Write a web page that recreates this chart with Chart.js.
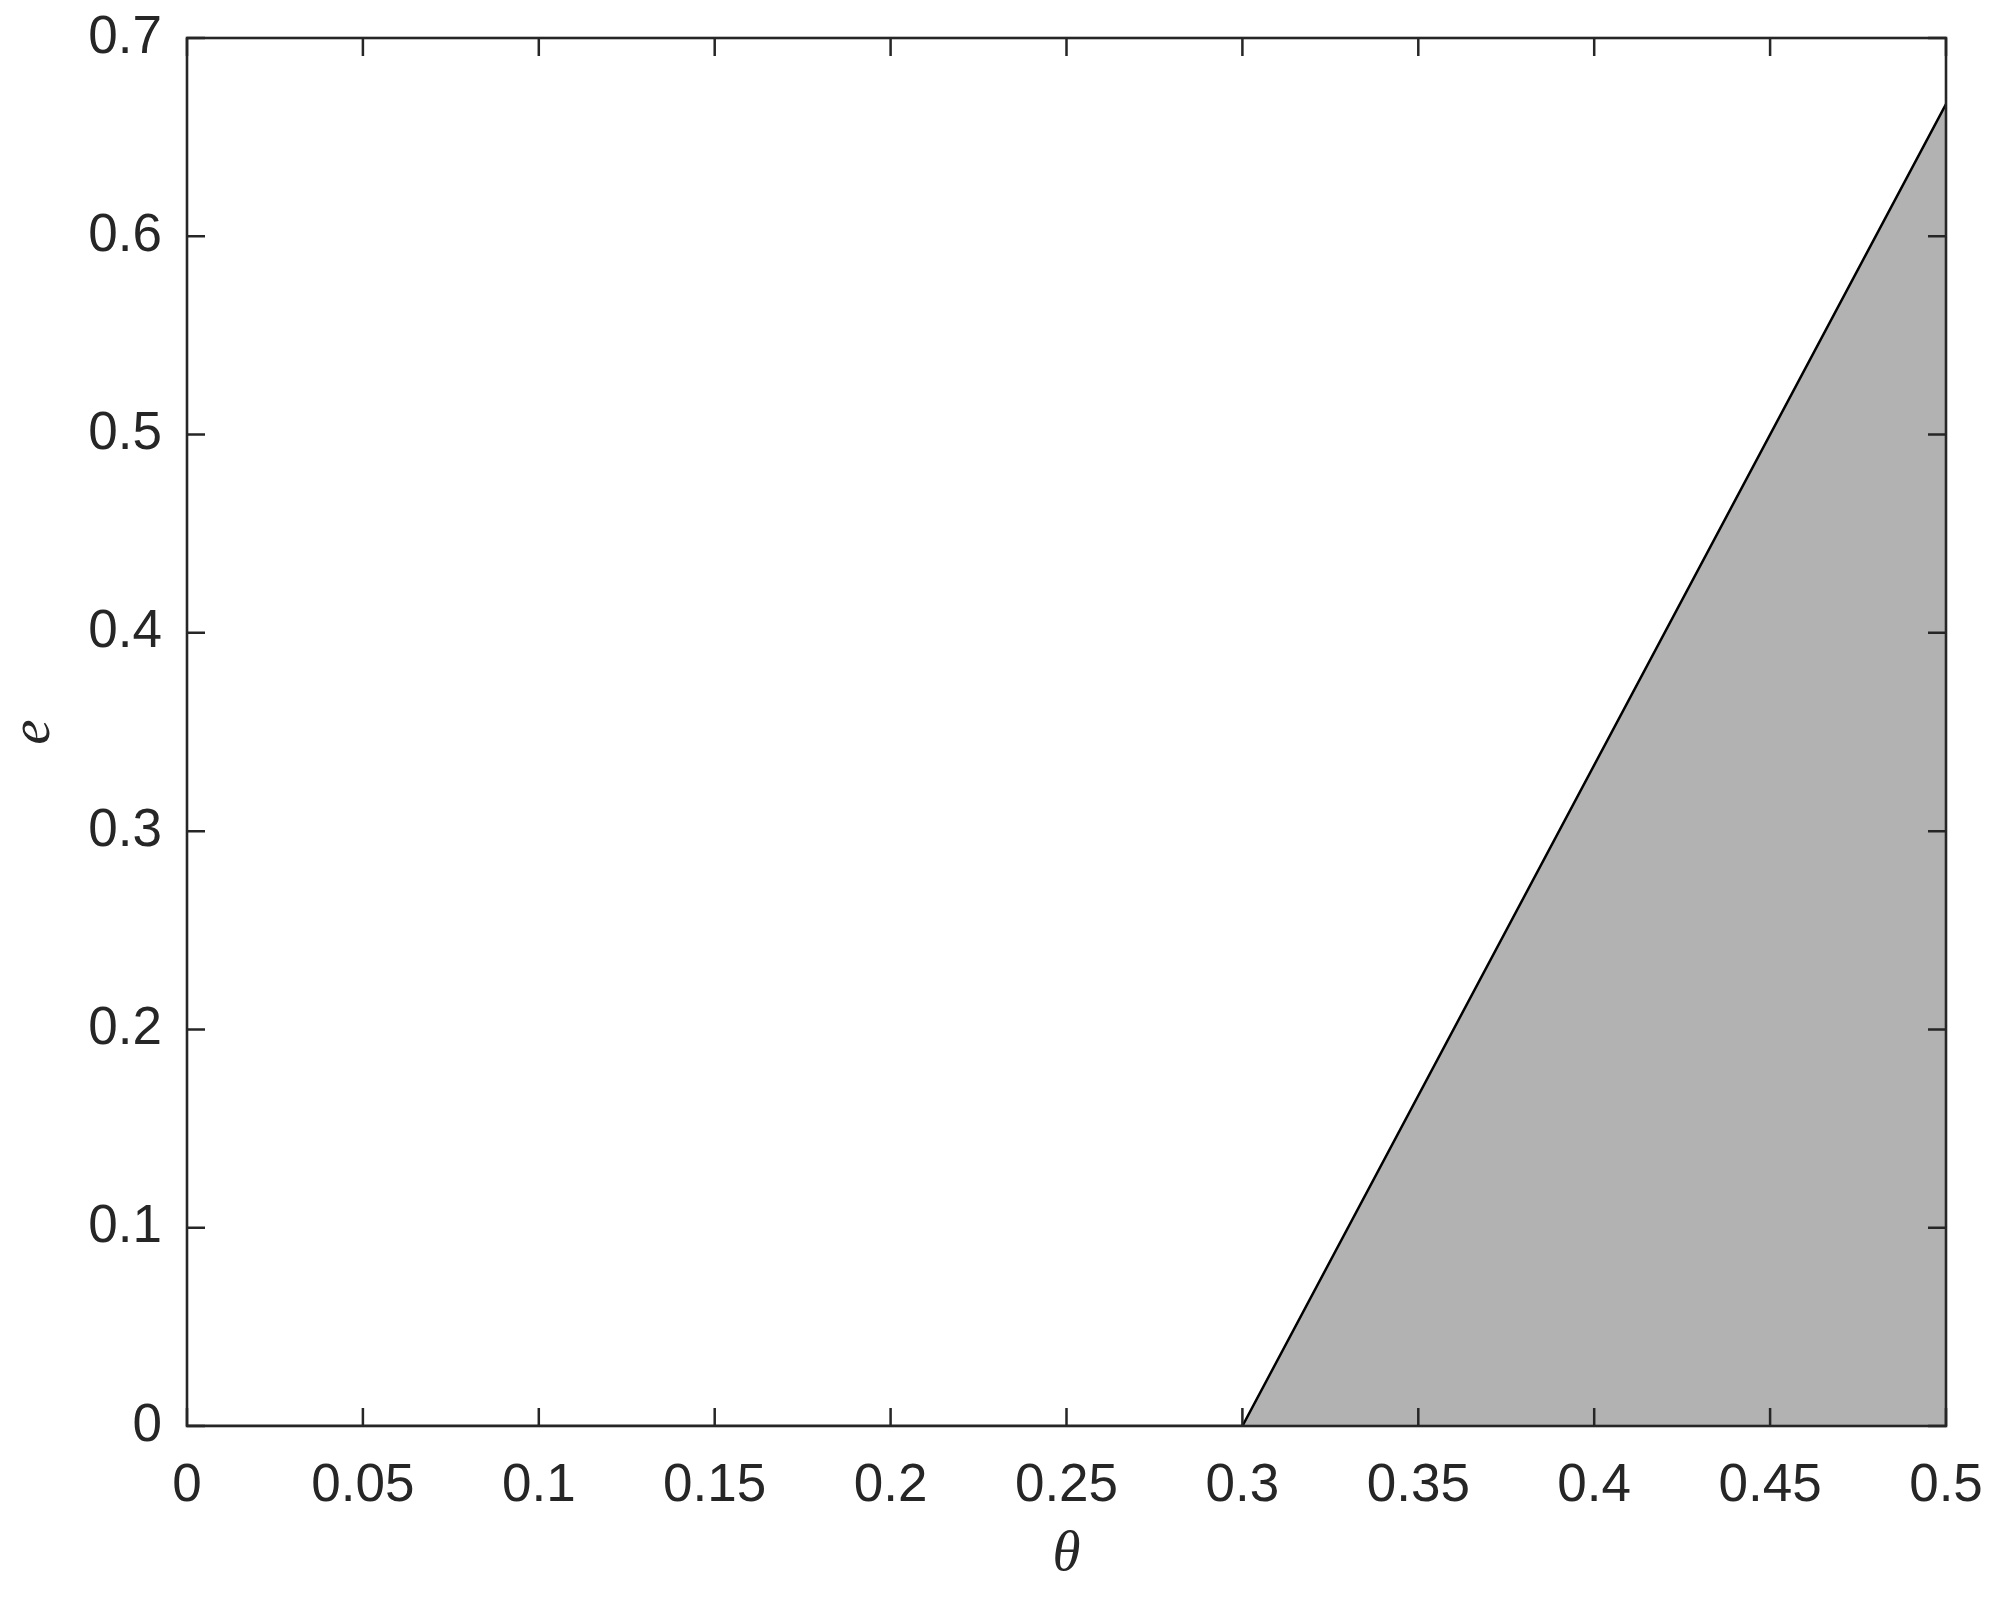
<!DOCTYPE html>
<html>
<head>
<meta charset="utf-8">
<script src="https://cdn.jsdelivr.net/npm/chart.js@4.4.1/dist/chart.umd.min.js"></script>
<style>
  html, body { margin: 0; padding: 0; background: #ffffff; }
  #wrap { width: 1999px; height: 1598px; }
</style>
</head>
<body>
<div id="wrap"><canvas id="c" width="1999" height="1598"></canvas></div>
<script>
// ---- data ----
const thetaValues = [0, 0.3, 0.5];
const eValues = [0, 0, 0.6667];
const xTickValues = [0, 0.05, 0.1, 0.15, 0.2, 0.25, 0.3, 0.35, 0.4, 0.45, 0.5];
const xTickLabels = ['0', '0.05', '0.1', '0.15', '0.2', '0.25', '0.3', '0.35', '0.4', '0.45', '0.5'];
const yTickValues = [0, 0.1, 0.2, 0.3, 0.4, 0.5, 0.6, 0.7];
const yTickLabels = ['0', '0.1', '0.2', '0.3', '0.4', '0.5', '0.6', '0.7'];
const xTitle = 'θ';
const yTitle = 'e';

const points = thetaValues.map((t, i) => ({ x: t, y: eValues[i] }));

const axisColor = '#262626';
const tickFont = { family: '"Liberation Sans", Arial, Helvetica, sans-serif', size: 53 };
const titleFont = { family: '"Liberation Serif", "Times New Roman", serif', size: 57, style: 'italic', lineHeight: 1 };

const boxTicks = {
  id: 'boxTicks',
  afterDatasetsDraw(chart) {
    const { ctx, chartArea: a, scales } = chart;
    const len = 18;
    ctx.save();
    ctx.strokeStyle = axisColor;
    ctx.lineWidth = 2.5;
    ctx.lineCap = 'butt';
    ctx.beginPath();
    xTickValues.forEach(v => {
      const px = scales.x.getPixelForValue(v);
      ctx.moveTo(px, a.bottom); ctx.lineTo(px, a.bottom - len);
      ctx.moveTo(px, a.top); ctx.lineTo(px, a.top + len);
    });
    yTickValues.forEach(v => {
      const py = scales.y.getPixelForValue(v);
      ctx.moveTo(a.left, py); ctx.lineTo(a.left + len, py);
      ctx.moveTo(a.right, py); ctx.lineTo(a.right - len, py);
    });
    ctx.stroke();
    ctx.lineWidth = 2.6;
    ctx.strokeRect(a.left, a.top, a.right - a.left, a.bottom - a.top);
    ctx.restore();
  }
};

new Chart(document.getElementById('c'), {
  type: 'scatter',
  data: {
    datasets: [{
      data: points,
      showLine: true,
      fill: 'origin',
      backgroundColor: 'rgb(178,178,178)',
      borderColor: '#000000',
      borderWidth: 2.5,
      pointRadius: 0,
      tension: 0
    }]
  },
  options: {
    responsive: false,
    animation: false,
    devicePixelRatio: 1,
    layout: { padding: { top: 38, right: 53, left: 0, bottom: 0 } },
    plugins: { legend: { display: false }, tooltip: { enabled: false } },
    scales: {
      x: {
        type: 'linear',
        min: 0, max: 0.5,
        grid: { display: false, drawTicks: false },
        border: { display: false },
        afterBuildTicks: s => { s.ticks = xTickValues.map(v => ({ value: v })); },
        afterFit: s => { s.height = 172; s.paddingLeft = 0; s.paddingRight = 0; s.paddingTop = 0; s.paddingBottom = 0; },
        ticks: {
          padding: 29,
          color: axisColor,
          font: tickFont,
          maxRotation: 0,
          autoSkip: false,
          callback: (v, i) => xTickLabels[i]
        },
        title: { display: true, text: xTitle, color: axisColor, font: titleFont, padding: { top: 0, bottom: 14 } }
      },
      y: {
        type: 'linear',
        min: 0, max: 0.7,
        grid: { display: false, drawTicks: false },
        border: { display: false },
        afterBuildTicks: s => { s.ticks = yTickValues.map(v => ({ value: v })); },
        afterFit: s => { s.width = 187; s.paddingLeft = 0; s.paddingRight = 0; s.paddingTop = 0; s.paddingBottom = 0; },
        ticks: {
          padding: 25,
          color: axisColor,
          font: tickFont,
          autoSkip: false,
          callback: (v, i) => yTickLabels[i]
        },
        title: { display: true, text: yTitle, color: axisColor, font: titleFont, padding: { top: 6, bottom: 0 } }
      }
    }
  },
  plugins: [boxTicks]
});
</script>
</body>
</html>
